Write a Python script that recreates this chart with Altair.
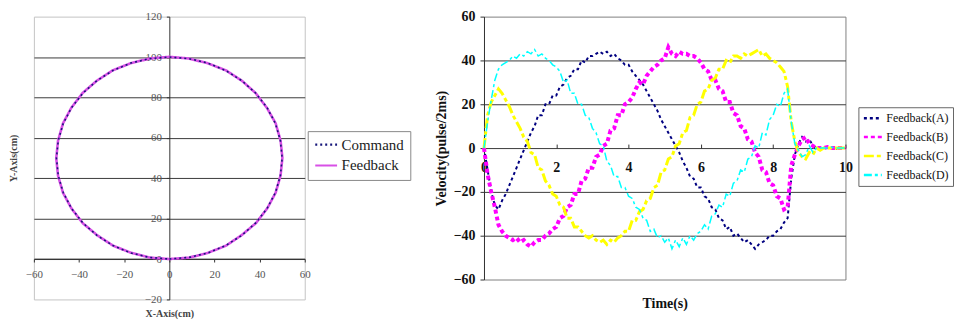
import altair as alt
import pandas as pd

# ---------------- left panel: circular path (cm) ----------------
CMD_X = [0, 8.7, 17.1, 25.0, 32.1, 38.3, 43.3, 47.0, 49.2, 50.0, 49.2, 47.0, 43.3, 38.3, 32.1, 25.0, 17.1, 8.7, 0,
         -8.7, -17.1, -25.0, -32.1, -38.3, -43.3, -47.0, -49.2, -50.0, -49.2, -47.0, -43.3, -38.3, -32.1, -25.0, -17.1, -8.7, 0]
CMD_Y = [0, 0.8, 3.0, 6.7, 11.7, 17.9, 25.0, 32.9, 41.3, 50.0, 58.7, 67.1, 75.0, 82.1, 88.3, 93.3, 97.0, 99.2, 100,
         99.2, 97.0, 93.3, 88.3, 82.1, 75.0, 67.1, 58.7, 50.0, 41.3, 32.9, 25.0, 17.9, 11.7, 6.7, 3.0, 0.8, 0]
FB_X = [0, 8.8, 17.2, 25.1, 32.0, 38.4, 43.4, 47.1, 49.3, 50.1, 49.3, 47.1, 43.2, 38.2, 32.2, 25.1, 17.0, 8.6, 0.1,
        -8.6, -17.2, -25.1, -32.2, -38.4, -43.4, -47.1, -49.3, -50.1, -49.3, -47.1, -43.4, -38.4, -32.0, -24.9, -17.0, -8.6, 0]
FB_Y = [0, 0.7, 3.1, 6.6, 11.8, 17.8, 25.1, 32.8, 41.4, 50.1, 58.6, 67.2, 74.9, 82.2, 88.2, 93.4, 96.9, 99.3, 100.1,
        99.3, 96.9, 93.4, 88.2, 82.2, 74.9, 67.2, 58.6, 49.9, 41.2, 32.8, 25.1, 17.8, 11.8, 6.6, 3.1, 0.7, 0]
X_TICKS_L = [-60, -40, -20, 0, 20, 40, 60]
Y_TICKS_L = [-20, 0, 20, 40, 60, 80, 100, 120]
SERIES_L = ["Command", "Feedback"]

# ---------------- right panel: velocity vs time ----------------
TIME_S = [0.0, 0.1, 0.2, 0.3, 0.4, 0.5, 0.6, 0.7, 0.8, 0.9,
          1.0, 1.1, 1.2, 1.3, 1.4, 1.5, 1.6, 1.7, 1.8, 1.9,
          2.0, 2.1, 2.2, 2.3, 2.4, 2.5, 2.6, 2.7, 2.8, 2.9,
          3.0, 3.1, 3.2, 3.3, 3.4, 3.5, 3.6, 3.7, 3.8, 3.9,
          4.0, 4.1, 4.2, 4.3, 4.4, 4.5, 4.6, 4.7, 4.8, 4.9,
          5.0, 5.1, 5.2, 5.3, 5.4, 5.5, 5.6, 5.7, 5.8, 5.9,
          6.0, 6.1, 6.2, 6.3, 6.4, 6.5, 6.6, 6.7, 6.8, 6.9,
          7.0, 7.1, 7.2, 7.3, 7.4, 7.5, 7.6, 7.7, 7.8, 7.9,
          8.0, 8.1, 8.2, 8.3, 8.4, 8.5, 8.6, 8.7, 8.8, 8.9,
          9.0, 9.1, 9.2, 9.3, 9.4, 9.5, 9.6, 9.7, 9.8, 9.9, 10.0]
VEL_A = [0, -10, -20, -26, -28, -24, -21, -17, -13, -9,
         -5, -1, 3, 7, 10, 15, 15, 20, 20, 24,
         24, 28, 29, 32, 33, 36, 36, 40, 39, 42,
         42, 43, 44, 43, 44, 42, 43, 41, 40, 38,
         38, 35, 33, 31, 29, 26, 23, 20, 17, 13,
         10, 7, 4, 1, -2, -6, -9, -13, -14, -18,
         -18, -22, -23, -27, -28, -32, -33, -37, -36, -40,
         -39, -41, -43, -42, -44, -46, -44, -43, -42, -40,
         -40, -38, -37, -34, -32, -14, -3, 2, 5, 3,
         4, 1, 0, 0, 0.5, 0, 0, -0.5, 0, 0, 0]
VEL_B = [0, -12, -20, -27, -35, -38, -40, -41, -42, -41,
         -43, -42, -44, -45, -43, -42, -42, -40, -39, -37,
         -36, -32, -31, -27, -26, -21, -21, -15, -14, -9,
         -9, -4, -3, 1, 2, 8, 9, 15, 15, 20,
         21, 23, 27, 30, 29, 33, 35, 37, 38, 40,
         41, 46, 43, 42, 44, 43, 43, 42, 42, 41,
         39, 36, 35, 31, 31, 27, 26, 21, 21, 16,
         15, 10, 9, 4, 3, -2, -4, -10, -11, -16,
         -17, -22, -23, -28, -27, -8, -3, 1, 4, 5,
         2, 1, 0, 0, 0, 0.5, 0, 0, 0, 0, 0]
VEL_C = [0, 15, 21, 24, 27, 25, 22, 19, 15, 12,
         9, 5, 3, -2, -3, -9, -10, -15, -17, -21,
         -22, -26, -27, -32, -32, -36, -36, -38, -40, -41,
         -40, -42, -43, -42, -44, -42, -43, -41, -40, -38,
         -38, -33, -33, -29, -28, -24, -23, -18, -17, -11,
         -10, -5, -4, 1, 2, 7, 8, 14, 15, 20,
         21, 26, 27, 31, 32, 36, 36, 40, 39, 42,
         42, 41, 43, 42, 43, 44, 45, 42, 43, 41,
         40, 39, 37, 35, 28, 12, 3, -2, -4, -5,
         -2, -3, 0, -1, 0, 0, 0, 0, 0, 0, 0]
VEL_D = [0, 12, 22, 31, 36, 38, 39, 40, 42, 41,
         43, 42, 44, 43, 45, 42, 43, 41, 40, 38,
         37, 35, 30, 31, 25, 25, 20, 20, 15, 14,
         9, 7, 2, 1, -6, -8, -13, -13, -18, -18,
         -22, -23, -27, -28, -32, -33, -38, -37, -41, -40,
         -43, -41, -46, -42, -45, -41, -44, -40, -42, -39,
         -38, -35, -37, -31, -30, -26, -27, -21, -22, -16,
         -15, -10, -11, -5, -4, 1, 0, 7, 6, 13,
         15, 20, 19, 25, 27, 12, 2, -1, -4, -3,
         1, -2, 0, 0, 0, 0, 0.5, 0, 0, 0, 0]
X_TICKS_R = [0, 2, 4, 6, 8, 10]
Y_TICKS_R = [-60, -40, -20, 0, 20, 40, 60]
SERIES_R = ["Feedback(A)", "Feedback(B)", "Feedback(C)", "Feedback(D)"]

SERIF = "Liberation Serif"
NARROW = "Liberation Sans Narrow"

W_L, H_L = 272, 284
W_R, H_R = 363, 264

# ---------- left chart ----------
rows = []
for i, (x, y) in enumerate(zip(CMD_X, CMD_Y)):
    rows.append({"series": "Command", "x": x, "y": y, "i": i})
for i, (x, y) in enumerate(zip(FB_X, FB_Y)):
    rows.append({"series": "Feedback", "x": x, "y": y, "i": i})
circ = pd.DataFrame(rows)

leg_l = alt.Legend(title=None, orient="none", legendX=275, legendY=115,
                   labelFont=SERIF, labelFontSize=15, labelColor="#222",
                   symbolType="stroke", symbolSize=480, symbolStrokeWidth=2.2,
                   clipHeight=15, strokeColor="#888", fillColor="white",
                   padding=6, rowPadding=5, labelOffset=3)
col_l = alt.Color("series:N", scale=alt.Scale(domain=SERIES_L, range=["#16167a", "#d850e6"]), legend=leg_l)
dash_l = alt.StrokeDash("series:N", scale=alt.Scale(domain=SERIES_L, range=[[2, 3], [1, 0]]), legend=leg_l)

x_l = alt.X("x:Q", scale=alt.Scale(domain=[-60, 60], nice=False, zero=False),
            axis=alt.Axis(values=X_TICKS_L, offset=-(20 / 140 * H_L), grid=False,
                          domainColor="#333", tickColor="#333", tickSize=3,
                          labelFont=SERIF, labelFontSize=11, labelColor="#555", labelPadding=7,
                          labelFlush=False, labelOverlap=False,
                          title="X-Axis(cm)", titleFont=SERIF, titleFontSize=10, titleFontWeight="bold",
                          titleColor="#444", titleY=55, titleBaseline="middle"))
y_l = alt.Y("y:Q", scale=alt.Scale(domain=[-20, 120], nice=False, zero=False),
            axis=alt.Axis(values=Y_TICKS_L, offset=-(W_L / 2), grid=True, gridColor="#3a3a3a",
                          gridOpacity={"condition": {"test": "datum.value < 0 || datum.value > 100", "value": 0}, "value": 1},
                          domainColor="#333", tickColor="#333", tickSize=3,
                          labelFont=SERIF, labelFontSize=11, labelColor="#555", labelPadding=5,
                          labelOverlap=False,
                          title="Y-Axis(cm)", titleFont=SERIF, titleFontSize=10, titleFontWeight="bold",
                          titleColor="#444", titleX=-(W_L / 2) - 20, titleY=H_L / 2, titleAngle=270,
                          titleBaseline="middle", titleAlign="center"))

base_l = alt.Chart(circ).encode(x=x_l, y=y_l, color=col_l, strokeDash=dash_l, order="i:Q")
fb_layer = base_l.transform_filter(alt.datum.series == "Feedback").mark_line(strokeWidth=2.6)
cmd_layer = base_l.transform_filter(alt.datum.series == "Command").mark_line(strokeWidth=1.6)
left = alt.layer(fb_layer, cmd_layer).properties(
    width=W_L, height=H_L, view=alt.ViewBackground(stroke="#c4c4c4"))

# ---------- right chart ----------
vrows = []
for name, vals in zip(SERIES_R, [VEL_A, VEL_B, VEL_C, VEL_D]):
    for t, v in zip(TIME_S, vals):
        vrows.append({"series": name, "t": t, "v": v})
vel = pd.DataFrame(vrows)

leg_r = alt.Legend(title=None, orient="none", legendX=376, legendY=91,
                   labelFont=SERIF, labelFontSize=12, labelColor="#111",
                   symbolType="stroke", symbolSize=324, symbolStrokeWidth=2.5,
                   clipHeight=14, strokeColor="#666", fillColor="white",
                   padding=4, rowPadding=5, labelOffset=3)
col_r = alt.Color("series:N", scale=alt.Scale(domain=SERIES_R, range=["#000080", "#ff00ff", "#ffff00", "#00ffff"]), legend=leg_r)
dash_r = alt.StrokeDash("series:N", scale=alt.Scale(domain=SERIES_R, range=[[3, 3], [4, 3], [10, 3, 4, 3], [8, 3, 3, 3]]), legend=leg_r)

x_r = alt.X("t:Q", scale=alt.Scale(domain=[0, 10], nice=False, zero=False),
            axis=alt.Axis(values=X_TICKS_R, offset=-(H_R / 2 + 4), grid=False, domain=False,
                          tickColor="#333", tickSize=4,
                          labelFont=SERIF, labelFontSize=14, labelFontWeight="bold", labelColor="#111",
                          labelPadding=13, labelFlush=False, labelOverlap=False,
                          title="Time(s)", titleFont=SERIF, titleFontSize=14, titleFontWeight="bold",
                          titleColor="#111", titleY=160, titleBaseline="middle"))
y_r = alt.Y("v:Q", scale=alt.Scale(domain=[-60, 60], nice=False, zero=False),
            axis=alt.Axis(values=Y_TICKS_R, grid=True, gridColor="#3a3a3a",
                          gridOpacity={"condition": {"test": "abs(datum.value) > 50", "value": 0}, "value": 1},
                          domainColor="#333", tickColor="#333", tickSize=4,
                          labelFont=NARROW, labelFontSize=14, labelFontWeight="bold", labelColor="#111",
                          labelPadding=5, labelOverlap=False,
                          title="Velocity(pulse/2ms)", titleFont=NARROW, titleFontSize=14, titleFontWeight="bold",
                          titleColor="#111", titleX=-43, titleY=H_R / 2, titleAngle=270,
                          titleBaseline="middle", titleAlign="center"))

base_r = alt.Chart(vel).encode(x=x_r, y=y_r, color=col_r, strokeDash=dash_r, order="t:Q")
widths = [2.0, 4.0, 3.0, 1.5]
layers_r = [base_r.transform_filter(alt.datum.series == s).mark_line(strokeWidth=w) for s, w in zip(SERIES_R, widths)]
right = alt.layer(*layers_r).properties(
    width=W_R, height=H_R, view=alt.ViewBackground(stroke="#808080"))

chart = alt.hconcat(left, right, spacing=22).resolve_scale(
    color="independent", strokeDash="independent", x="independent", y="independent"
).resolve_legend(color="independent", strokeDash="independent").properties(
    padding={"left": 0, "top": 0, "right": 0, "bottom": 0}, background="white"
).configure_legend(labelFont=SERIF)

chart.save("out.html", embed_options={"renderer": "svg", "actions": False})
